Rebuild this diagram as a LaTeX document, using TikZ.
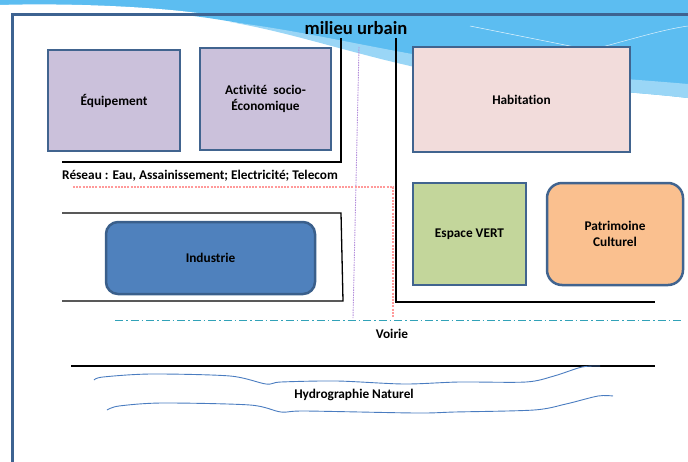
\documentclass[tikz,border=0pt]{standalone}
\usepackage{fontspec}
\setmainfont[Ligatures=NoCommon]{Carlito}
\usetikzlibrary{calc}
\definecolor{sky}{HTML}{5CBDF1}
\definecolor{skylight}{HTML}{9AD6F6}
\definecolor{framec}{HTML}{3D6391}
\definecolor{edgec}{HTML}{41648F}
\definecolor{lav}{HTML}{CBC1DB}
\definecolor{rosec}{HTML}{F2DCDB}
\definecolor{greenc}{HTML}{C3D69B}
\definecolor{orangec}{HTML}{FAC08F}
\definecolor{bluec}{HTML}{4F81BD}
\definecolor{bluedge}{HTML}{3A5F8B}
\definecolor{pinkc}{HTML}{FF9A9A}
\definecolor{purplec}{HTML}{B48FDB}
\definecolor{tealc}{HTML}{31A2B8}
\definecolor{riverc}{HTML}{4A7CC0}
\tikzset{
  zone/.style={draw=edgec, line width=2.5pt, font=\fontsize{13.3}{16}\selectfont\bfseries, align=center, inner sep=0pt},
  lbl/.style={font=\fontsize{13.3}{16}\selectfont\bfseries, inner sep=0pt},
  limit/.style={draw=black, line width=1.3pt},
  river/.style={draw=riverc, line width=0.9pt}
}
\begin{document}
\begin{tikzpicture}[x=1pt,y=-1pt]
\useasboundingbox (0,0) rectangle (688,461);
% sky band and wave at the top of the page
\fill[sky] (0,0) rectangle (688,14);
\fill[white] (0,5) .. controls (60,3) and (150,6) .. (205,14) -- (0,14) -- cycle;
\fill[sky] (175,14) .. controls (280,24) and (370,58) .. (450,74)
  .. controls (540,88) and (620,90) .. (688,98) -- (688,14) -- cycle;
\fill[skylight] (230,22) .. controls (300,34) and (370,60) .. (450,74)
  .. controls (540,88) and (620,90) .. (688,98) -- (688,84)
  .. controls (620,78) and (540,74) .. (460,62) .. controls (380,50) and (300,30) .. (230,22) -- cycle;
\draw[white, line width=0.5pt, opacity=0.8] (470,26) .. controls (520,36) and (560,44) .. (590,50) .. controls (630,40) and (660,30) .. (688,26);
% page frame
\draw[framec, line width=3pt] (12,470) -- (12,14) -- (700,14);

% title
\node[font=\fontsize{18.6}{20}\selectfont\bfseries, inner sep=0pt] (title) at (356,28) {milieu urbain};

% zone boundaries
\draw[black, line width=1.9pt] (341,38) -- (341,162) -- (62,162);
\draw[limit] (396,38) -- (396,302) -- (655,302);
\draw[limit] (62,213) -- (341,213) -- (343,301) -- (62,301);

% network and road lines
\draw[purplec, line width=0.9pt, dash pattern=on 1.5pt off 1pt] (359,47) -- (353,318);
\draw[pinkc, line width=1.3pt, dash pattern=on 2pt off 1.2pt] (73,187) -- (393,187) -- (393,318);
\draw[tealc, line width=1pt, dash pattern=on 8pt off 3pt on 1.5pt off 3pt] (115,320) -- (683,320);

% functional zones
\node[zone, fill=lav, minimum width=132pt, minimum height=101pt] (equip) at (114,100.5) {Équipement};
\node[zone, fill=lav, minimum width=131pt, minimum height=102pt] (activ) at (265.5,99) {Activité\ \ socio-\\Économique};
\node[zone, fill=rosec, minimum width=217pt, minimum height=105pt] (habit) at (521.5,99.5) {Habitation};
\node[zone, fill=greenc, minimum width=113pt, minimum height=102pt] (vert) at (469.5,234) {Espace VERT};
\node[zone, fill=orangec, rounded corners=15pt, minimum width=136pt, minimum height=102pt] (patri) at (615,234) {Patrimoine\\Culturel};
\node[zone, draw=bluedge, fill=bluec, rounded corners=12pt, minimum width=209pt, minimum height=72pt] (indus) at (210.5,258) {Industrie};

% labels
\node[lbl, anchor=west] (reseau) at (62,176) {Réseau : Eau, Assainissement; Electricité; Telecom};
\node[lbl] (voirie) at (392,334) {Voirie};

% river banks
\draw[black, line width=2.2pt] (71,366) -- (655,366);
\draw[river] plot[smooth, tension=0.5] coordinates {(94,380) (103,377) (151,374) (230,376) (266,384) (281,382) (337,381) (404,384) (459,382) (526,382) (554,376) (582,367) (600,366)};
\draw[river] plot[smooth, tension=0.5] coordinates {(107,410) (119,406) (162,403) (250,405) (281,412) (305,411) (416,413) (455,412) (534,410) (566,404) (598,396) (613,396)};
\node[lbl] (hydro) at (354,395) {Hydrographie Naturel};
\end{tikzpicture}
\end{document}
